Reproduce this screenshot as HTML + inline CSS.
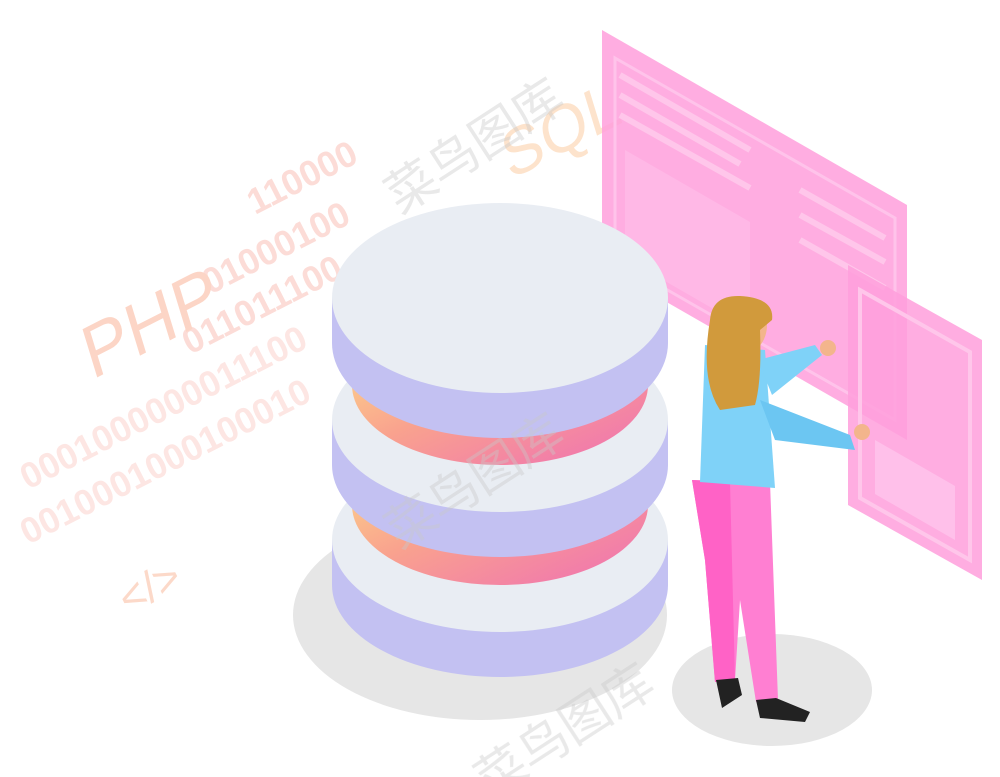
<!DOCTYPE html>
<html><head><meta charset="utf-8"><style>
html,body{margin:0;padding:0;background:#fff;width:1000px;height:777px;overflow:hidden;}
svg{display:block}
text{font-family:"Liberation Sans","Noto Sans CJK SC",sans-serif;}
</style></head><body>
<svg width="1000" height="777" viewBox="0 0 1000 777" xmlns="http://www.w3.org/2000/svg">
<defs>
<linearGradient id="g" x1="0" y1="0" x2="1" y2="1">
<stop offset="0" stop-color="#fde08a"/><stop offset="0.45" stop-color="#f9a28e"/><stop offset="1" stop-color="#ef6fb4"/>
</linearGradient>
</defs>
<!-- faint code text -->
<g fill="#fcdcd7" font-weight="bold" font-size="36">
<text x="0" y="0" transform="translate(255,215) rotate(-27)">110000</text>
<text x="0" y="0" transform="translate(210,295) rotate(-27)">01000100</text>
<text x="0" y="0" transform="translate(190,355) rotate(-27)">011011100</text>
<text x="0" y="0" transform="translate(28,490) rotate(-27)" fill="#fde6e3">0001000000011100</text>
<text x="0" y="0" transform="translate(28,545) rotate(-27)" fill="#fde6e3">0010001000100010</text>
</g>
<text x="0" y="0" font-size="72" fill="#fcd5c6" transform="translate(92,380) rotate(-27) skewX(-10)">PHP</text>
<text x="0" y="0" font-size="64" fill="#fde3cc" transform="translate(510,180) rotate(-27) skewX(-10)">SQL</text>
<text x="0" y="0" font-size="44" fill="#fcd9c9" transform="translate(128,615) rotate(-27)">&lt;/&gt;</text>
<!-- panels -->
<polygon points="602,30 907,205 907,440 602,265" fill="#ff9fdc" opacity="0.85"/>
<polygon points="615,58 895,218 895,420 615,260" fill="none" stroke="#ffc3ea" stroke-width="3"/>
<g stroke="#ffc6ea" stroke-width="6">
<line x1="620" y1="75" x2="750" y2="150"/><line x1="620" y1="95" x2="740" y2="164"/><line x1="620" y1="115" x2="750" y2="188"/>
<line x1="800" y1="190" x2="885" y2="238"/><line x1="800" y1="215" x2="885" y2="262"/><line x1="800" y1="240" x2="885" y2="288"/>
</g>
<polygon points="625,150 750,222 750,330 625,258" fill="#ffb8e6"/>
<polygon points="848,265 982,340 982,580 848,505" fill="#ff9fdc" opacity="0.85"/>
<polygon points="860,290 970,352 970,560 860,498" fill="none" stroke="#ffc6ea" stroke-width="4"/>
<polygon points="875,440 955,486 955,540 875,494" fill="#ffc0ea"/>
<!-- db shadow -->
<ellipse cx="480" cy="615" rx="187" ry="105" fill="#e6e6e6"/>
<!-- bottom disc -->
<path d="M332,540 L332,585 A168,92 0 0 0 668,585 L668,540 Z" fill="#c3c1f2"/>
<ellipse cx="500" cy="540" rx="168" ry="92" fill="#e9edf3"/>
<!-- bottom gradient -->
<path d="M352,445 L352,505 A148,80 0 0 0 648,505 L648,445 Z" fill="url(#g)"/>
<!-- middle disc -->
<path d="M332,420 L332,465 A168,92 0 0 0 668,465 L668,420 Z" fill="#c3c1f2"/>
<ellipse cx="500" cy="420" rx="168" ry="92" fill="#e9edf3"/>
<!-- top gradient -->
<path d="M352,330 L352,385 A148,80 0 0 0 648,385 L648,330 Z" fill="url(#g)"/>
<!-- top disc -->
<path d="M332,298 L332,343 A168,95 0 0 0 668,343 L668,298 Z" fill="#c3c1f2"/>
<ellipse cx="500" cy="298" rx="168" ry="95" fill="#e9edf3"/>
<!-- person shadow -->
<ellipse cx="772" cy="690" rx="100" ry="56" fill="#e6e6e6"/>
<!-- legs -->
<path d="M692,480 L770,482 L778,700 L756,702 L740,600 L735,680 L715,682 L705,560 Z" fill="#ff7fd2"/>
<path d="M692,480 L730,482 L735,680 L715,682 L705,560 Z" fill="#ff62c6"/>
<path d="M716,680 L738,678 L742,695 L722,708 Z" fill="#222"/>
<path d="M756,700 L776,698 L810,712 L805,722 L760,718 Z" fill="#222"/>
<!-- torso -->
<path d="M705,345 L765,350 L775,488 L700,482 Z" fill="#7fd2f8"/>
<!-- arms -->
<path d="M758,360 L815,345 L822,355 L772,395 Z" fill="#7fd2f8"/>
<path d="M760,400 L850,435 L855,450 L775,440 Z" fill="#6cc6f2"/>
<circle cx="828" cy="348" r="8" fill="#f3b58c"/>
<circle cx="862" cy="432" r="8" fill="#f3b58c"/>
<!-- head & hair -->
<ellipse cx="745" cy="325" rx="22" ry="28" fill="#f3b58c"/>
<path d="M710,320 Q712,295 740,296 Q775,298 772,320 L760,330 Q762,380 755,405 L720,410 Q700,380 710,320 Z" fill="#d19a3c"/>
<!-- watermarks -->
<g fill="#c8c8c8" opacity="0.4" font-size="50">
<text x="0" y="0" transform="translate(400,215) rotate(-33)">菜鸟图库</text>
<text x="0" y="0" transform="translate(400,550) rotate(-33)">菜鸟图库</text>
<text x="0" y="0" transform="translate(490,800) rotate(-33)">菜鸟图库</text>
</g>
</svg>
</body></html>
